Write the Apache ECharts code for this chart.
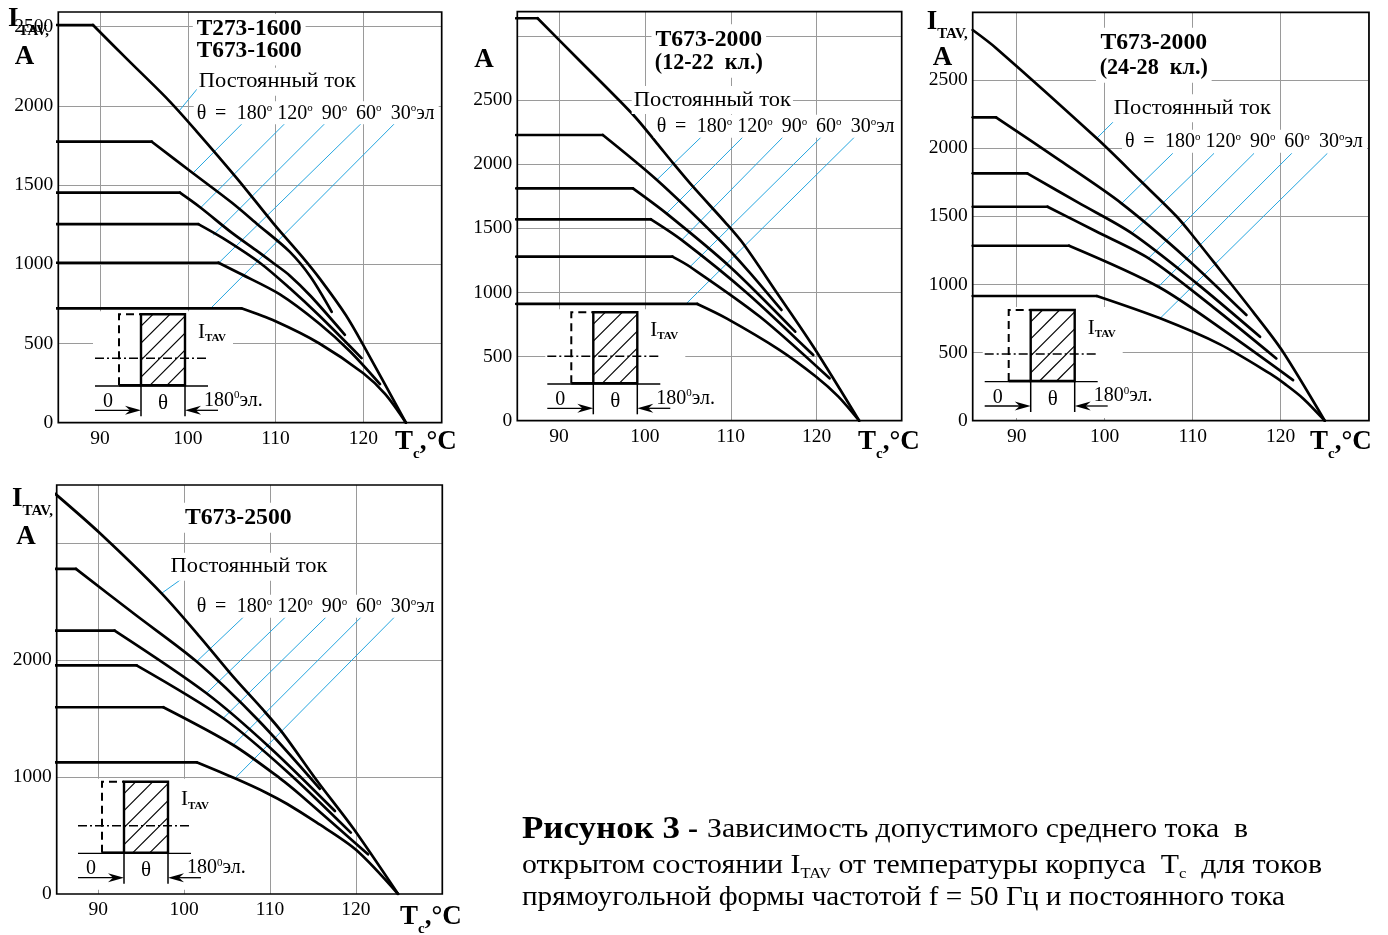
<!DOCTYPE html>
<html>
<head>
<meta charset="utf-8">
<script src="https://cdn.jsdelivr.net/npm/echarts@6.0.0/dist/echarts.min.js"></script>
<style>
html,body{margin:0;padding:0;background:#fff;}
#chart{width:1388px;height:935px;}
</style>
</head>
<body>
<div id="chart"></div>
<script>
// ================= DATA =================
const xTickLabels = [90, 100, 110, 120];
const yTickLabels1 = [0, 500, 1000, 1500, 2000, 2500];
const yTickLabels2 = [0, 500, 1000, 1500, 2000, 2500];
const yTickLabels3 = [0, 500, 1000, 1500, 2000, 2500];
const yTickLabels4 = [0, 1000, 2000];
const curveNames = ['Постоянный ток', '180°', '120°', '90°', '60°', '30°'];
const panelTitles = [['T273-1600', 'T673-1600'], ['T673-2000', '(12-22  кл.)'], ['T673-2000', '(24-28  кл.)'], ['T673-2500']];

// Panel 1: T273-1600 / T673-1600   [Tc, I_TAV]
const p1_dc  = [[85,2511],[89.2,2511],[93,2300],[97.8,2037],[101,1840],[105.6,1543],[109.7,1262],[113,1050],[115.1,905],[118,680],[120,490],[124.85,0]];
const p1_180 = [[85,1774],[95.9,1774],[100.6,1575],[105,1390],[108,1250],[111.6,1080],[114,920],[116.4,700]];
const p1_120 = [[85,1452],[99.1,1452],[101.4,1360],[105,1200],[108,1080],[109.7,1010],[111.6,930],[114,800],[117.9,555]];
const p1_90  = [[85,1254],[101.2,1254],[104,1165],[108.2,1010],[111.6,850],[115,675],[119.8,408]];
const p1_60  = [[85,1010],[103.5,1010],[106,940],[110.5,810],[115,625],[118.5,450],[121.9,244]];
const p1_30  = [[85,722],[106.1,722],[110,640],[115,500],[120,312],[122.5,180],[124.85,0]];
const p1_leaders = [[[101.13,2111],[98.93,1963]],[[106.33,1896],[100.63,1578]],[[111.19,1896],[101.39,1353]],[[115.75,1896],[102.91,1185]],[[119.89,1896],[103.48,1006]],[[123.69,1896],[102.61,722]]];

// Panel 2: T673-2000 (12-22 кл.)
const p2_dc  = [[85,3137],[87.5,3137],[92,2833],[98.65,2383],[101.4,2162],[103.3,2006],[105.6,1824],[109.5,1535],[111.5,1375],[115.3,1003],[119.6,578],[124.95,0]];
const p2_180 = [[85,2227],[95.1,2227],[101.4,1876],[108.7,1408],[112,1170],[115.9,863]];
const p2_120 = [[85,1811],[98.6,1811],[102.5,1616],[109.9,1200],[117.5,694]];
const p2_90  = [[85,1570],[100.7,1570],[104.3,1408],[111.85,998],[119.6,512]];
const p2_60  = [[85,1279],[103.2,1279],[105.25,1200],[113.4,810],[121.5,330]];
const p2_30  = [[85,910],[106.1,910],[109.5,798],[115.7,551],[119.9,345],[122.5,190],[124.95,0]];
const p2_leaders = [[[99.43,2435],[98.65,2375]],[[106.8,2227],[101.37,1876]],[[111.65,2227],[102.53,1616]],[[116.31,2227],[104.28,1408]],[[120.77,2227],[105.25,1200]],[[124.65,2227],[104.86,915]]];

// Panel 3: T673-2000 (24-28 кл.)
const p3_dc  = [[85,2867],[87.7,2732],[99.09,2072],[104,1764],[108.2,1497],[110.1,1350],[113.1,1106],[116.9,795],[120.1,520],[125,0]];
const p3_180 = [[85,2226],[87.65,2226],[94.9,1910],[101.9,1595],[109.3,1191],[116.1,775]];
const p3_120 = [[85,1815],[91.2,1815],[97,1600],[103.1,1375],[110.45,1008],[117.65,616]];
const p3_90  = [[85,1570],[93.5,1570],[99,1390],[105,1191],[112.35,832],[119.5,457]];
const p3_60  = [[85,1284],[95.95,1284],[106.1,983],[113.9,646],[121.4,298]];
const p3_30  = [[85,915],[99.1,915],[106.3,751],[113.1,560],[118.8,345],[120.5,268],[122.6,160],[125,0]];
const p3_leaders = [[[101.17,2206],[99.09,2072]],[[107.73,1962],[101.93,1595]],[[112.42,1962],[103.07,1375]],[[116.97,1962],[104.96,1191]],[[121.25,1962],[106.1,983]],[[125.3,1962],[106.29,751]]];

// Panel 4: T673-2500
const p4_dc  = [[85,3424],[90.2,3087],[97.37,2573],[101.8,2203],[105.7,1860],[109.2,1575],[111.5,1375],[115.4,976],[119.7,560],[124.9,0]];
const p4_180 = [[85,2782],[87.4,2782],[94.4,2385],[101.45,1989],[108.6,1489],[115.8,900]];
const p4_120 = [[85,2254],[91.9,2254],[102.6,1718],[110,1252],[117.55,710]];
const p4_90  = [[85,1957],[94.46,1957],[104.55,1504],[111.9,1053],[119.4,525]];
const p4_60  = [[85,1598],[97.57,1598],[105.7,1275],[111.15,990],[113.5,850],[121.4,340]];
const p4_30  = [[85,1127],[101.45,1127],[105.9,990],[109.6,865],[112,770],[115.4,612],[120,378],[124.9,0]];
const p4_leaders = [[[100.09,2716],[97.37,2573]],[[106.96,2374],[101.45,1989]],[[111.85,2374],[102.61,1718]],[[116.58,2374],[104.55,1504]],[[120.66,2374],[105.72,1275]],[[124.54,2374],[105.91,990]]];

const captionLine1Bold = 'Рисунок 3';
const captionLine1 = 'Зависимость допустимого среднего тока  в';
const captionLine3 = 'прямоугольной формы частотой f = 50 Гц и постоянного тока';

// ================= LAYOUT =================
const FF = '"Liberation Serif", "Times New Roman", serif';
const BLUE = '#26a6e0';
const curves = [
  [p1_dc, p1_180, p1_120, p1_90, p1_60, p1_30],
  [p2_dc, p2_180, p2_120, p2_90, p2_60, p2_30],
  [p3_dc, p3_180, p3_120, p3_90, p3_60, p3_30],
  [p4_dc, p4_180, p4_120, p4_90, p4_60, p4_30]
];
const leaders = [p1_leaders, p2_leaders, p3_leaders, p4_leaders];
const layout = [
  {left:58.3, top:12, width:383.4, height:410.7, xr:[85.25,128.93], yr:[0,2593], yInt:500, yTicks:yTickLabels1,
   tX:249.2, tY:[29,50.5], tW:[105,105], dcX:196.7, dcY:81.7, thX:196.7, thY:113.3, inset:[141,385.3],
   iPos:[8,19], aPos:[24.5,57.5], tc:[395,442]},
  {left:517.3, top:11.7, width:384.4, height:409, xr:[85.14,129.9], yr:[0,3188], yInt:500, yTicks:yTickLabels2,
   tX:708.8, tY:[39.3,62.7], tW:[106.7,108], dcX:631.7, dcY:100, thX:656.7, thY:126.7, inset:[593.3,383.3],
   iPos:null, aPos:[484,60], tc:[858,442]},
  {left:972.7, top:12.3, width:396.3, height:408.4, xr:[85.0,130.03], yr:[0,2997], yInt:500, yTicks:yTickLabels3,
   tX:1153.8, tY:[42.7,67.7], tW:[106.7,108.3], dcX:1111.7, dcY:108.3, thX:1125, thY:141.7, inset:[1030.7,381],
   iPos:[926.7,22], aPos:[942.5,58.5], tc:[1310,442]},
  {left:56.7, top:485, width:385.6, height:409, xr:[85.16,130.05], yr:[0,3500], yInt:1000, yTicks:yTickLabels4,
   tX:238.3, tY:[517.7], tW:[106.7], dcX:168.3, dcY:566.7, thX:196.7, thY:606.7, inset:[124,852.7],
   iPos:[12,499], aPos:[26,537.5], tc:[400,917]}
];

// ---------- text helpers ----------
const mctx = document.createElement('canvas').getContext('2d');
function mw(t, size, bold) { mctx.font = (bold ? 'bold ' : '') + size + 'px ' + FF; return mctx.measureText(t).width; }
function run(x, y, segs, o) {
  o = o || {};
  const size = o.size || 20, bold = !!o.bold;
  const subSize = o.subSize || Math.round(size * 0.55);
  const lh = Math.round(size * 1.25);
  const subBold = (o.subBold !== undefined) ? o.subBold : bold;
  const sty = {
    n:   {fontSize:size, fontWeight:bold ? 'bold' : 'normal', fontFamily:FF, fill:'#000', lineHeight:lh},
    sub: {fontSize:subSize, fontWeight:subBold ? 'bold' : 'normal', fontFamily:FF, fill:'#000', lineHeight:lh, padding:[2 * (o.subShift || 8), 0, 0, 0]},
    sup: {fontSize:o.supSize || subSize, fontWeight:bold ? 'bold' : 'normal', fontFamily:FF, fill:'#000', lineHeight:lh, padding:[0, 0, 2 * (o.supShift || 6), 0]}
  };
  let nat = 0, str = '';
  segs.forEach(([t, k]) => { const s = sty[k]; nat += mw(t, s.fontSize, s.fontWeight === 'bold'); str += '{' + k + '|' + t + '}'; });
  const sx = o.width ? o.width / nat : 1;
  const z = o.z || 20;
  const text = {type:'text', x:0, y:0, z:z, style:{text:str, rich:sty, align:o.align || 'left', verticalAlign:'middle'}};
  if (o.bg) { text.style.backgroundColor = o.bg; text.style.padding = o.pad || [1, 3]; }
  return {type:'group', x:x, y:y, scaleX:sx, z:z, children:[text]};
}
function seg(x1, y1, x2, y2, w, extra) {
  return {type:'line', shape:{x1:x1, y1:y1, x2:x2, y2:y2}, style:Object.assign({stroke:'#000', lineWidth:w}, extra || {}), z:7};
}
function thetaRow(x0, y) {
  const els = [{type:'rect', shape:{x:x0 - 3, y:y - 12, width:245, height:23}, style:{fill:'#fff'}, z:15}];
  const items = [[0, [['θ','n']]], [18.3, [['=','n']]], [40, [['180','n'],['o','sup']]], [80.6, [['120','n'],['o','sup']]],
                 [125, [['90','n'],['o','sup']]], [159.3, [['60','n'],['o','sup']]], [194, [['30','n'],['o','sup'],['эл','n']]]];
  items.forEach(([dx, s]) => els.push(run(x0 + dx, y, s, {size:20, supSize:11, supShift:5})));
  return els;
}
function hatch(x0, y0, w, h, step) {
  const out = [];
  for (let k = x0 + y0 + step * 0.7; k < x0 + w + y0 + h; k += step) {
    const xa = Math.max(x0, k - (y0 + h)), xb = Math.min(x0 + w, k - y0);
    if (xb > xa) out.push(seg(xa, k - xa, xb, k - xb, 1.2));
  }
  return out;
}
function inset(ax, ay) {
  const W = 44, H = 71, e = [];
  e.push({type:'rect', shape:{x:ax - 48, y:ay - 74, width:140, height:111}, style:{fill:'#fff'}, z:5});
  e.push({type:'polyline', shape:{points:[[ax - 22, ay], [ax - 22, ay - H], [ax, ay - H]]}, style:{stroke:'#000', fill:null, lineWidth:2, lineDash:[8, 5]}, z:7});
  e.push(seg(ax - 22, ay, ax, ay, 2.6));
  hatch(ax, ay - H, W, H, 17).forEach(l => e.push(l));
  e.push({type:'rect', shape:{x:ax, y:ay - H, width:W, height:H}, style:{fill:null, stroke:'#000', lineWidth:2.4}, z:8});
  e.push(seg(ax, ay, ax, ay + 31, 1.5));
  e.push(seg(ax + W, ay, ax + W, ay + 31, 1.5));
  e.push(seg(ax - 46, ay + 0.7, ax + 67, ay + 0.7, 1.3));
  e.push(seg(ax - 46, ay - 27, ax + 67, ay - 27, 1.4, {lineDash:[9, 3, 2, 3]}));
  e.push(seg(ax - 46, ay + 25, ax - 8, ay + 25, 1.3));
  e.push({type:'polygon', shape:{points:[[ax, ay + 25], [ax - 16, ay + 20.5], [ax - 11, ay + 25], [ax - 16, ay + 29.5]]}, style:{fill:'#000'}, z:8});
  e.push(seg(ax + W + 8, ay + 25, ax + 77, ay + 25, 1.3));
  e.push({type:'polygon', shape:{points:[[ax + W, ay + 25], [ax + W + 16, ay + 20.5], [ax + W + 11, ay + 25], [ax + W + 16, ay + 29.5]]}, style:{fill:'#000'}, z:8});
  e.push(run(ax - 33, ay + 16.5, [['0','n']], {size:20, align:'center'}));
  e.push(run(ax + 22, ay + 18, [['θ','n']], {size:21, align:'center'}));
  e.push(run(ax + 63, ay + 15, [['180','n'], ['0','sup'], ['эл.','n']], {size:20, supSize:11, supShift:5}));
  e.push(run(ax + 57, ay - 53, [['I','n'], ['TAV','sub']], {size:21, subSize:11, subBold:true, subShift:6}));
  return e;
}

// ---------- build option ----------
const grid = [], xAxis = [], yAxis = [], series = [], graphic = [];
const curveStyle = {color:'#000', width:2.7, join:'round', cap:'round'};
layout.forEach((L, i) => {
  grid.push({left:L.left, top:L.top, width:L.width, height:L.height, show:false, outerBoundsMode:'none'});
  xAxis.push({type:'value', gridIndex:i, min:L.xr[0], max:L.xr[1], minInterval:10, maxInterval:10,
    axisLine:{show:false}, axisTick:{show:false},
    splitLine:{show:true, showMinLine:false, showMaxLine:false, lineStyle:{color:'#9a9a9a', width:1}},
    axisLabel:{fontFamily:FF, fontSize:19.5, color:'#000', margin:6,
      formatter:v => (Math.abs(v - Math.round(v)) < 1e-6 && xTickLabels.indexOf(Math.round(v)) >= 0) ? String(Math.round(v)) : ''}});
  yAxis.push({type:'value', gridIndex:i, min:L.yr[0], max:L.yr[1], interval:L.yInt,
    axisLine:{show:false}, axisTick:{show:false},
    splitLine:{show:true, showMinLine:false, showMaxLine:false, lineStyle:{color:'#9a9a9a', width:1}},
    axisLabel:{fontFamily:FF, fontSize:19.5, color:'#000', margin:5,
      formatter:v => (L.yTicks.indexOf(Math.round(v)) >= 0 && Math.abs(v - Math.round(v)) < 1e-6) ? String(Math.round(v)) : ''}});
  curves[i].forEach((d, j) => {
    const hasFlat = d.length > 2 && d[0][1] === d[1][1];
    if (hasFlat) series.push({type:'line', name:curveNames[j], xAxisIndex:i, yAxisIndex:i, data:d.slice(0, 2),
      symbol:'none', silent:true, clip:true, z:3, lineStyle:curveStyle});
    series.push({type:'line', name:curveNames[j], xAxisIndex:i, yAxisIndex:i, data:hasFlat ? d.slice(1) : d,
      symbol:'none', silent:true, clip:true, z:3, smooth:0.3, lineStyle:curveStyle});
  });
  leaders[i].forEach(d => series.push({type:'line', xAxisIndex:i, yAxisIndex:i, data:d, symbol:'none', silent:true, z:2,
    lineStyle:{color:BLUE, width:1}}));
  graphic.push({type:'rect', shape:{x:L.left, y:L.top, width:L.width, height:L.height}, style:{fill:null, stroke:'#000', lineWidth:1.7}, z:30});
  panelTitles[i].forEach((t, k) => graphic.push(run(L.tX, L.tY[k], [[t, 'n']], {size:24, bold:true, align:'center', width:L.tW[k], bg:'#fff', pad:[0, 4]})));
  graphic.push(run(L.dcX, L.dcY, [[curveNames[0], 'n']], {size:21, width:157, bg:'#fff', pad:[1, 2]}));
  thetaRow(L.thX, L.thY).forEach(e => graphic.push(e));
  inset(L.inset[0], L.inset[1]).forEach(e => graphic.push(e));
  if (L.iPos) graphic.push(run(L.iPos[0], L.iPos[1], [['I', 'n'], ['TAV,', 'sub']], {size:27, bold:true, subSize:15, subShift:12}));
  graphic.push(run(L.aPos[0], L.aPos[1], [['A', 'n']], {size:27, bold:true, align:'center'}));
  graphic.push(run(L.tc[0], L.tc[1], [['T', 'n'], ['c', 'sub'], [',°C', 'n']], {size:27, bold:true, subSize:15, subShift:12}));
});

// caption
graphic.push(run(522, 830, [[captionLine1Bold, 'n']], {size:32, bold:true, width:158}));
graphic.push(run(688, 830, [['-', 'n']], {size:30, bold:true}));
graphic.push(run(707, 830, [[captionLine1, 'n']], {size:27, width:541}));
graphic.push(run(522, 866, [['открытом состоянии I', 'n'], ['TAV', 'sub'], [' от температуры корпуса  T', 'n'], ['c', 'sub'], ['  для токов', 'n']],
  {size:27, subSize:15, subShift:8, width:800}));
graphic.push(run(522, 898, [[captionLine3, 'n']], {size:27, width:763}));

const chart = echarts.init(document.getElementById('chart'), null, {renderer:'canvas'});
chart.setOption({
  animation:false,
  backgroundColor:'#fff',
  grid:grid, xAxis:xAxis, yAxis:yAxis, series:series,
  graphic:{elements:graphic}
});
</script>
</body>
</html>
